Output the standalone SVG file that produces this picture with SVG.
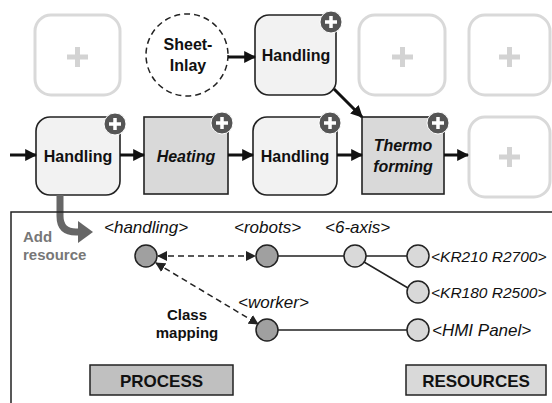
<svg xmlns="http://www.w3.org/2000/svg" width="552" height="403" viewBox="0 0 552 403">
<defs>
<style>
text{font-family:"Liberation Sans",Arial,sans-serif;}
.lbl{font-size:16px;font-weight:bold;fill:#111;text-anchor:middle;}
.it{font-style:italic;}
.ph{fill:#fff;stroke:#d9d9d9;stroke-width:3;}
.php{stroke:#d3d3d3;stroke-width:5;}
.hd{fill:#f2f2f2;stroke:#222;stroke-width:1.6;}
.op{fill:#d9d9d9;stroke:#222;stroke-width:1.6;}
.badge{fill:#555;stroke:#fff;stroke-width:1;}
.bp{stroke:#fff;stroke-width:3.5;}
.flow{stroke:#111;stroke-width:3;fill:none;}
.dash{stroke:#222;stroke-width:1.5;stroke-dasharray:6 4;fill:none;}
.sol{stroke:#222;stroke-width:1.5;fill:none;}
.dk{fill:#a0a0a0;stroke:#222;stroke-width:1.5;}
.lt{fill:#d9d9d9;stroke:#222;stroke-width:1.5;}
.cls{font-size:17px;font-style:italic;fill:#111;}
.kr{font-size:15.5px;}
</style>
<marker id="ah" viewBox="0 0 10 10" refX="9" refY="5" markerWidth="12" markerHeight="12" orient="auto-start-reverse" markerUnits="userSpaceOnUse">
<path d="M0,0 L10,5 L0,10 z" fill="#111"/>
</marker>
<marker id="sh" viewBox="0 0 10 10" refX="9" refY="5" markerWidth="10" markerHeight="10" orient="auto-start-reverse" markerUnits="userSpaceOnUse">
<path d="M0,0 L10,5 L0,10 z" fill="#222"/>
</marker>
</defs>
<rect width="552" height="403" fill="#fff"/>

<!-- placeholders -->
<g id="ph1"><rect class="ph" x="35" y="15" width="85" height="80" rx="16"/><path class="php" d="M67,57 H88 M77.5,47 V67"/></g>
<g id="ph2"><rect class="ph" x="359" y="15" width="86" height="80" rx="16"/><path class="php" d="M392,57 H413 M402.5,47 V67"/></g>
<g id="ph3"><rect class="ph" x="469" y="15" width="81" height="80" rx="16"/><path class="php" d="M499,57 H520 M509.5,47 V67"/></g>
<g id="ph4"><rect class="ph" x="469" y="117" width="81" height="80" rx="16"/><path class="php" d="M499,157 H520 M509.5,147 V167"/></g>

<!-- sheet inlay -->
<g id="sheet-inlay">
<circle cx="187" cy="55" r="41" fill="#fff" stroke="#222" stroke-width="1.5" stroke-dasharray="6 4"/>
<text class="lbl" x="188" y="50">Sheet-</text>
<text class="lbl" x="188" y="71">Inlay</text>
</g>

<!-- top handling -->
<g id="handling-top">
<rect class="hd" x="255" y="15" width="81" height="80" rx="14"/>
<text class="lbl" x="296" y="61">Handling</text>
<circle class="badge" cx="331" cy="22" r="11"/><path class="bp" d="M325,22 H337 M331,16 V28"/>
</g>

<!-- row 2 -->
<g id="handling-1">
<rect class="hd" x="36" y="117" width="84" height="78" rx="14"/>
<text class="lbl" x="78" y="162">Handling</text>
<circle class="badge" cx="115" cy="124" r="11"/><path class="bp" d="M109,124 H121 M115,118 V130"/>
</g>
<g id="heating">
<rect class="op" x="144" y="117" width="84" height="77"/>
<text class="lbl it" x="186" y="162">Heating</text>
<circle class="badge" cx="222" cy="123" r="11"/><path class="bp" d="M216,123 H228 M222,117 V129"/>
</g>
<g id="handling-2">
<rect class="hd" x="253" y="117" width="84" height="78" rx="14"/>
<text class="lbl" x="295" y="162">Handling</text>
<circle class="badge" cx="330" cy="123" r="11"/><path class="bp" d="M324,123 H336 M330,117 V129"/>
</g>
<g id="thermoforming">
<rect class="op" x="362" y="117" width="82" height="77"/>
<text class="lbl it" x="403" y="151">Thermo</text>
<text class="lbl it" x="403" y="172">forming</text>
<circle class="badge" cx="438" cy="123" r="11"/><path class="bp" d="M432,123 H444 M438,117 V129"/>
</g>

<!-- connectors -->
<g id="connectors">
<path class="flow" marker-end="url(#ah)" d="M228,57 H255"/>
<path class="flow" marker-end="url(#ah)" d="M334,89 L362,117"/>
<path class="flow" marker-end="url(#ah)" d="M10,155 H36"/>
<path class="flow" marker-end="url(#ah)" d="M120,155 H144"/>
<path class="flow" marker-end="url(#ah)" d="M228,155 H253"/>
<path class="flow" marker-end="url(#ah)" d="M337,155 H362"/>
<path class="flow" marker-end="url(#ah)" d="M444,155 H468"/>
<path d="M60,195 V216 Q60,232 76,232 H79" stroke="#666" stroke-width="7" fill="none"/>
<path d="M78,221 L93,232 L78,243 z" fill="#666"/>
<path class="dash" marker-start="url(#sh)" marker-end="url(#sh)" d="M158,256 H255"/>
<path class="dash" marker-start="url(#sh)" marker-end="url(#sh)" d="M156,263 L258,324"/>
<path class="sol" d="M278,256 H344 M366,256 H407 M364,262 L408,288 M278,330 H407"/>
</g>

<!-- panel -->
<g id="panel">
<rect x="11" y="212" width="560" height="200" fill="none" stroke="#222" stroke-width="1.5"/>
<text x="23" y="242" font-size="15" font-weight="bold" fill="#777">Add</text>
<text x="23" y="260" font-size="15" font-weight="bold" fill="#777">resource</text>
<text x="187" y="320" font-size="15" font-weight="bold" fill="#111" text-anchor="middle">Class</text>
<text x="187" y="338" font-size="15" font-weight="bold" fill="#111" text-anchor="middle">mapping</text>
</g>

<g id="n-handling"><text class="cls" x="104" y="233">&lt;handling&gt;</text><circle class="dk" cx="146" cy="256" r="11"/></g>
<g id="n-robots"><text class="cls" x="234" y="233">&lt;robots&gt;</text><circle class="dk" cx="267" cy="256" r="11"/></g>
<g id="n-6axis"><text class="cls" x="325" y="233">&lt;6-axis&gt;</text><circle class="lt" cx="355" cy="256" r="11"/></g>
<g id="n-worker"><text class="cls" x="238" y="308">&lt;worker&gt;</text><circle class="dk" cx="267" cy="330" r="11"/></g>
<g id="n-kr210"><circle class="lt" cx="418" cy="256" r="11"/><text class="cls kr" x="431" y="262">&lt;KR210 R2700&gt;</text></g>
<g id="n-kr180"><circle class="lt" cx="418" cy="292" r="11"/><text class="cls kr" x="431" y="298">&lt;KR180 R2500&gt;</text></g>
<g id="n-hmi"><circle class="lt" cx="418" cy="330" r="11"/><text class="cls" x="432" y="336">&lt;HMI Panel&gt;</text></g>

<g id="process"><rect x="90" y="365" width="143" height="30" fill="#c0c0c0" stroke="#222" stroke-width="1.5"/><text x="161.5" y="387" font-size="17" font-weight="bold" fill="#111" text-anchor="middle">PROCESS</text></g>
<g id="resources"><rect x="406" y="365" width="140" height="30" fill="#d9d9d9" stroke="#222" stroke-width="1.5"/><text x="476" y="387" font-size="17" font-weight="bold" fill="#111" text-anchor="middle">RESOURCES</text></g>
</svg>
